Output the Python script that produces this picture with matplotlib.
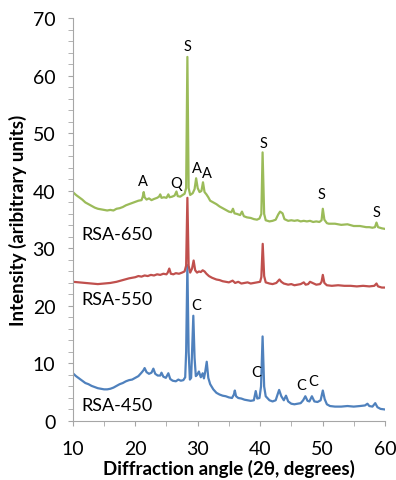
import matplotlib
matplotlib.use("Agg")
import matplotlib.pyplot as plt
from matplotlib.ticker import MultipleLocator

plt.rcParams['font.family'] = ['Lato', 'DejaVu Sans']

# XRD patterns: (2theta, intensity)
rsa650 = [
    (10, 39.8), (10.5, 39.3), (11, 38.9), (11.5, 38.5), (12, 38.0), (12.5, 37.7),
    (13, 37.4), (13.5, 37.1), (14, 36.9), (14.5, 36.8), (15, 36.7), (15.5, 36.6),
    (16, 36.7), (16.5, 36.6), (17, 36.9), (17.5, 37.0), (18, 37.2), (18.5, 37.5),
    (19, 37.7), (19.5, 37.9), (20, 38.1), (20.5, 38.3), (21, 38.4), (21.2, 39.0),
    (21.35, 39.8), (21.5, 38.9), (21.8, 38.5), (22.2, 38.7), (22.6, 38.4), (23, 38.6),
    (23.5, 38.8), (23.8, 39.0), (24.0, 39.4), (24.2, 38.8), (24.6, 38.9), (25.0, 38.8),
    (25.3, 39.4), (25.5, 38.9), (25.9, 39.0), (26.3, 39.2), (26.6, 39.9), (26.8, 39.1),
    (27.2, 39.0), (27.6, 39.3), (27.9, 39.5), (28.15, 40.5), (28.35, 63.3), (28.55, 40.5),
    (28.8, 39.3), (29.2, 39.6), (29.5, 40.3), (29.75, 42.2), (30.0, 40.5), (30.3, 39.8),
    (30.6, 40.0), (30.85, 41.5), (31.1, 39.8), (31.4, 39.4), (31.7, 38.9), (32, 38.3),
    (32.5, 38.0), (33, 37.7), (33.5, 37.3), (34, 37.0), (34.5, 36.7), (35, 36.4),
    (35.4, 36.3), (35.65, 36.9), (35.9, 36.1), (36.3, 36.0), (36.8, 35.8), (37.1, 36.4),
    (37.4, 35.6), (37.9, 35.4), (38.5, 35.3), (39, 35.1), (39.5, 35.0), (39.9, 35.2),
    (40.2, 36.0), (40.4, 46.7), (40.65, 36.0), (40.9, 34.9), (41.5, 34.7), (42, 34.8),
    (42.5, 35.0), (42.9, 35.9), (43.2, 36.4), (43.6, 36.1), (43.9, 35.1), (44.5, 34.8),
    (45, 34.9), (45.5, 34.8), (46, 34.9), (46.5, 34.7), (47, 34.8), (47.5, 34.7),
    (48, 34.8), (48.5, 34.6), (49, 34.7), (49.5, 34.6), (49.85, 34.9), (50.05, 36.9),
    (50.3, 35.0), (50.7, 34.4), (51, 34.3), (52, 34.3), (53, 34.1), (54, 34.2),
    (55, 33.9), (56, 33.9), (57, 33.7), (57.5, 33.7), (58, 33.6), (58.4, 33.7),
    (58.65, 34.5), (58.9, 33.7), (59.5, 33.5), (60, 33.4),
]

rsa550 = [
    (10, 24.2), (11, 24.1), (12, 24.0), (13, 23.9), (14, 23.8), (15, 23.9),
    (16, 24.0), (17, 24.2), (18, 24.5), (19, 24.8), (20, 25.0), (20.5, 25.2),
    (21, 25.1), (21.5, 25.3), (22, 25.2), (22.5, 25.4), (23, 25.3), (23.5, 25.5),
    (24, 25.4), (24.5, 25.6), (25, 25.5), (25.2, 25.8), (25.45, 26.5), (25.7, 25.6),
    (26.1, 25.5), (26.5, 25.7), (27, 25.6), (27.5, 25.8), (27.9, 26.0), (28.15, 27.0),
    (28.35, 38.8), (28.55, 27.0), (28.8, 25.8), (29.1, 26.5), (29.35, 27.9), (29.6, 26.2),
    (29.9, 25.8), (30.2, 26.0), (30.5, 25.9), (30.8, 26.2), (31.1, 26.0), (31.4, 25.6),
    (31.8, 25.2), (32.3, 24.9), (33, 24.6), (33.5, 24.5), (34, 24.3), (34.5, 24.2),
    (35, 24.1), (35.6, 24.4), (36, 24.0), (36.5, 24.2), (37, 23.9), (37.5, 24.0),
    (38, 24.1), (38.5, 23.9), (39, 24.0), (39.5, 24.1), (40.0, 24.2), (40.2, 25.0),
    (40.42, 30.8), (40.65, 25.2), (40.9, 24.1), (41.5, 23.9), (42, 23.8), (42.6, 24.0),
    (43.1, 24.6), (43.4, 24.2), (43.8, 23.9), (44.5, 23.7), (45, 23.8), (45.5, 23.6),
    (46, 23.7), (46.5, 23.8), (47, 24.1), (47.3, 23.7), (47.7, 23.8), (48.0, 24.2),
    (48.4, 24.0), (49, 23.7), (49.6, 23.8), (49.85, 24.2), (50.05, 25.4), (50.3, 24.0),
    (50.7, 23.6), (51.5, 23.5), (52.5, 23.6), (53.5, 23.5), (54.5, 23.5), (55.5, 23.4),
    (56.5, 23.5), (57.5, 23.4), (58.3, 23.5), (58.65, 23.9), (58.9, 23.4), (59.5, 23.2),
    (60, 23.2),
]

rsa450 = [
    (10, 8.3), (10.5, 7.8), (11, 7.4), (11.5, 7.0), (12, 6.6), (12.5, 6.4),
    (13, 6.1), (13.5, 5.9), (14, 5.7), (14.5, 5.6), (15, 5.5), (15.5, 5.5),
    (16, 5.6), (16.5, 5.8), (17, 6.1), (17.5, 6.4), (18, 6.6), (18.5, 6.9),
    (19, 7.1), (19.5, 7.2), (20, 7.5), (20.5, 7.8), (21, 8.4), (21.3, 8.8),
    (21.5, 9.2), (21.8, 8.5), (22.2, 8.2), (22.6, 8.4), (22.9, 9.1), (23.2, 8.2),
    (23.6, 7.9), (24.0, 7.9), (24.2, 8.4), (24.5, 7.7), (24.9, 7.5), (25.3, 8.3),
    (25.6, 7.3), (26.0, 7.0), (26.5, 6.9), (26.9, 7.2), (27.3, 7.0), (27.7, 7.1),
    (28.0, 7.6), (28.15, 12.0), (28.35, 27.1), (28.55, 12.0), (28.75, 7.2), (28.95, 7.5),
    (29.1, 12.0), (29.3, 18.3), (29.5, 11.0), (29.7, 7.8), (29.9, 8.0), (30.2, 8.6),
    (30.5, 7.6), (30.8, 8.3), (31.0, 7.4), (31.2, 8.5), (31.45, 10.3), (31.7, 7.5),
    (32.0, 6.4), (32.5, 5.5), (33, 4.9), (33.5, 4.6), (34, 4.4), (34.5, 4.3),
    (35, 4.1), (35.5, 4.0), (35.8, 4.6), (35.95, 5.3), (36.15, 4.3), (36.5, 4.0),
    (37, 3.9), (37.5, 3.7), (38, 3.6), (38.5, 3.5), (39.0, 3.6), (39.3, 5.2),
    (39.55, 3.9), (39.9, 4.0), (40.15, 6.0), (40.4, 14.7), (40.65, 6.0), (40.9, 4.3),
    (41.5, 3.6), (42, 3.4), (42.5, 3.6), (42.8, 4.6), (43.05, 5.4), (43.4, 4.3),
    (43.8, 3.6), (44.15, 4.4), (44.5, 3.4), (45, 3.0), (45.5, 2.9), (46, 3.0),
    (46.5, 3.1), (46.9, 3.6), (47.25, 4.3), (47.6, 3.5), (47.9, 3.4), (48.3, 4.3),
    (48.7, 3.4), (49.2, 3.3), (49.7, 3.6), (50.05, 5.3), (50.35, 3.8), (50.7, 2.9),
    (51.2, 2.6), (52, 2.5), (53, 2.5), (54, 2.6), (55, 2.5), (56, 2.6),
    (56.8, 2.7), (57.2, 3.0), (57.5, 2.6), (58.0, 2.5), (58.45, 3.1), (58.8, 2.4),
    (59.3, 2.1), (60, 2.0),
]

# phase labels: (text, x, y)
phase_labels = [
    ("S", 28.3, 65.2), ("S", 40.5, 48.3), ("A", 21.3, 41.8), ("Q", 26.5, 41.4),
    ("A", 29.9, 43.9), ("A", 31.5, 43.1), ("S", 49.9, 39.4), ("S", 58.7, 36.4),
    ("C", 29.8, 20.1), ("C", 39.3, 8.5), ("C", 46.6, 6.3), ("C", 48.5, 7.0),
]
series_names = [("RSA-650", 32.5), ("RSA-550", 21.2), ("RSA-450", 2.8)]

fig = plt.figure(figsize=(3.96, 4.81), dpi=100)
ax = fig.add_axes([0.184, 0.1227, 0.788, 0.837])

for pts, col in [(rsa450, '#4F81BD'), (rsa550, '#C0504D'), (rsa650, '#9BBB59')]:
    xs, ys = zip(*pts)
    ax.plot(xs, ys, color=col, lw=1.6)

for t, x, y in phase_labels:
    ax.text(x, y, t, ha='center', va='center', fontsize=10.5)
for t, y in series_names:
    ax.text(11.4, y, t, ha='left', va='center', fontsize=13)

ax.set_xlim(10, 60)
ax.set_ylim(0, 70)
ax.xaxis.set_major_locator(MultipleLocator(10))
ax.xaxis.set_minor_locator(MultipleLocator(5))
ax.yaxis.set_major_locator(MultipleLocator(10))
ax.yaxis.set_minor_locator(MultipleLocator(2))
for s in ['top', 'right']:
    ax.spines[s].set_visible(False)
for s in ['left', 'bottom']:
    ax.spines[s].set_color('#A6A6A6')
ax.tick_params(which='both', length=3.6, color='#A6A6A6', labelsize=14)
ax.tick_params(axis='y', pad=9)
ax.tick_params(axis='x', pad=10)

ax.set_xlabel("Diffraction angle (2θ, degrees)", fontsize=13.5, fontweight='bold', labelpad=1.5)
ax.set_ylabel("Intensity (aribitrary units)", fontsize=13.5, fontweight='bold', labelpad=4)

fig.savefig("out.png", dpi=100)
